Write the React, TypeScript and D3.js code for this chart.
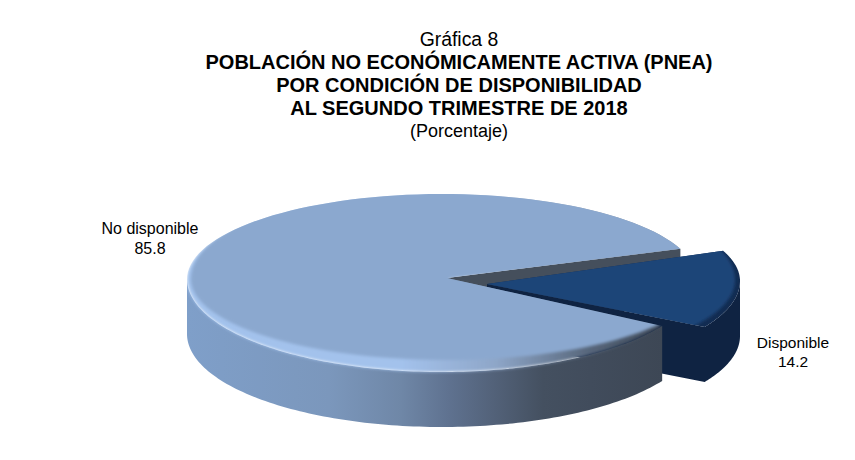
import React from 'react'
import * as d3 from 'd3'

const categories = ['No disponible', 'Disponible']
const values = [85.8, 14.2]
const titleLines = ['POBLACIÓN NO ECONÓMICAMENTE ACTIVA (PNEA)', 'POR CONDICIÓN DE DISPONIBILIDAD', 'AL SEGUNDO TRIMESTRE DE 2018']

const WIDTH = 855
const HEIGHT = 460
const DEPTH = 55
const deg = (d: number) => (d * Math.PI) / 180
const START = deg(120.3)

// pie angles, the first slice starts at the lower cut of the wedge
const arcs = d3.pie<number>().sort(null).startAngle(START).endAngle(START + 2 * Math.PI)(values)
const big = arcs[0]
const small = arcs[1]

type Disc = { cx: number; cy: number; rx: number; back: number; front: number }
type Pt = [number, number]

const project = (d: Disc, a: number): Pt => {
  const c = Math.cos(a)
  return [d.cx + d.rx * Math.sin(a), d.cy - (c > 0 ? d.back : d.front) * c]
}
const line = d3.line<Pt>()
const sample = (d: Disc, a0: number, a1: number): Pt[] =>
  d3.range(0, 121).map((i) => project(d, a0 + ((a1 - a0) * i) / 120))
const down = (pts: Pt[]): Pt[] => pts.map(([x, y]) => [x, y + DEPTH] as Pt).reverse()
const wedge = (d: Disc, tip: Pt, a0: number, a1: number) => line([tip, ...sample(d, a0, a1)]) + 'Z'
const wall = (a: Pt, b: Pt) => line([a, b, [b[0], b[1] + DEPTH], [a[0], a[1] + DEPTH]]) + 'Z'
const side = (d: Disc, a0: number, a1: number) => {
  const pts = sample(d, a0, a1)
  return line([...pts, ...down(pts)]) + 'Z'
}
// outer wall and cut wall of the exploded slice as one shape, so no seam shows
const sliceBody = (d: Disc, tip: Pt, a0: number, a1: number) => {
  const pts = sample(d, a0, a1)
  return line([tip, ...pts.slice().reverse(), ...down(pts.slice().reverse()), [tip[0], tip[1] + DEPTH]]) + 'Z'
}

// big slice
const bigDisc: Disc = { cx: 442, cy: 279, rx: 255, back: 85, front: 93 }
const bigInner: Disc = { cx: 447, cy: 279, rx: 256, back: 92, front: 81 }
const bigTip: Pt = [447, 278]
// exploded slice
const smallDisc: Disc = { cx: 482, cy: 281, rx: 258, back: 85, front: 91 }
const smallInner: Disc = { cx: 480, cy: 280, rx: 255, back: 92, front: 85 }
const smallTip: Pt = [487, 284]

const sideScale = d3.scaleLinear<string>().domain([0, 0.3, 0.45, 0.55, 0.75, 1]).range(['#7f9fc9', '#7b97bc', '#6f87a7', '#5f7290', '#445060', '#3d4755'])
const bevelScale = d3.scaleLinear<string>().domain([0, 0.45, 0.65, 0.85, 1]).range(['#a3c2ec', '#a3c2ec', '#8ea6c8', '#56657a', '#3e4856'])
const gradStops = [0, 0.3, 0.45, 0.55, 0.65, 0.75, 0.85, 1]

const App = () => {
  const upperCut = project(bigDisc, small.startAngle)
  const bigTop = wedge(bigDisc, bigTip, big.startAngle, big.endAngle)
  const bigSide = side(bigDisc, big.startAngle, deg(270))
  return (
    <svg width={WIDTH} height={HEIGHT} style={{ position: 'absolute', left: 0, top: 0, background: '#fff' }} fontFamily="'Liberation Sans', Arial, sans-serif" fill="#000">
      <defs>
        <linearGradient id="sideGrad" gradientUnits="userSpaceOnUse" x1={187} x2={662} y1={0} y2={0}>
          {gradStops.map((t) => <stop key={t} offset={t} stopColor={sideScale(t)} />)}
        </linearGradient>
        <linearGradient id="bevelGrad" gradientUnits="userSpaceOnUse" x1={187} x2={662} y1={0} y2={0}>
          {gradStops.map((t) => <stop key={t} offset={t} stopColor={bevelScale(t)} />)}
        </linearGradient>
        <filter id="soft" x="-5%" y="-5%" width="110%" height="110%">
          <feGaussianBlur stdDeviation="1.6" />
        </filter>
        <clipPath id="bigClip"><path d={bigTop} /></clipPath>
        <clipPath id="bigAllClip"><path d={bigTop} /><path d={bigSide} /></clipPath>
        <clipPath id="smallClip"><path d={wedge(smallDisc, smallTip, small.startAngle, small.endAngle)} /></clipPath>
      </defs>

      <text x={459} y={46} textAnchor="middle" fontSize={19.4}>Gráfica 8</text>
      {titleLines.map((t, i) => (
        <text key={t} x={459} y={69 + i * 23.2} textAnchor="middle" fontSize={20} fontWeight="bold">{t}</text>
      ))}
      <text x={459} y={137} textAnchor="middle" fontSize={18}>(Porcentaje)</text>

      {/* cut wall of the big slice, seen through the gap */}
      <path d={wall(bigTip, upperCut)} fill="#454f5c" />

      {/* exploded slice */}
      <path d={sliceBody(smallDisc, smallTip, deg(450), small.endAngle)} fill="#0f2342" />
      <path d={wedge(smallDisc, smallTip, small.startAngle, small.endAngle)} fill="#122c52" />
      <g clipPath="url(#smallClip)">
        <path d={wedge(smallInner, [470, 284], small.startAngle - 0.1, small.endAngle + 0.1)} fill="#1c4478" filter="url(#soft)" />
      </g>

      {/* big slice */}
      <path d={bigSide} fill="url(#sideGrad)" />
      <g clipPath="url(#bigAllClip)">
        <path d={bigTop} fill="url(#bevelGrad)" filter="url(#soft)" />
      </g>
      <g clipPath="url(#bigClip)">
        <path d={wedge(bigInner, bigTip, big.startAngle - 0.3, big.endAngle + 0.1)} fill="#8ba8cf" filter="url(#soft)" />
      </g>

      <text x={150} y={234} textAnchor="middle" fontSize={16}>{categories[0]}</text>
      <text x={150} y={254} textAnchor="middle" fontSize={16}>{values[0]}</text>
      <text x={793} y={348} textAnchor="middle" fontSize={15.5}>{categories[1]}</text>
      <text x={793} y={367} textAnchor="middle" fontSize={15.5}>{values[1]}</text>
    </svg>
  )
}

export default App
